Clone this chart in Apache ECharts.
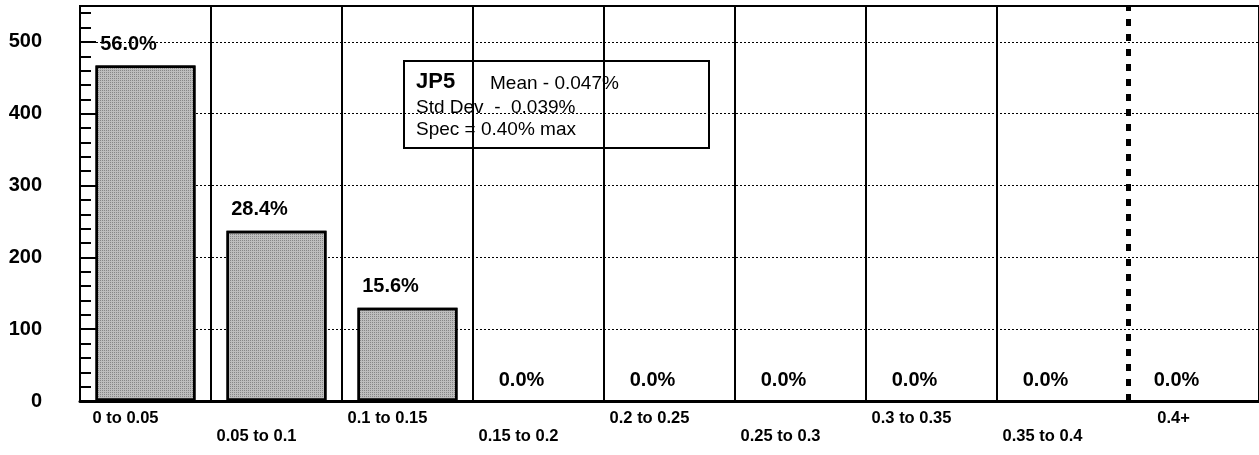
<!DOCTYPE html>
<html>
<head>
<meta charset="utf-8">
<script src="https://cdn.jsdelivr.net/npm/echarts@6/dist/echarts.min.js"></script>
<style>
  html, body { margin: 0; padding: 0; background: #fff; }
  #chart { width: 1259px; height: 455px; }
</style>
</head>
<body>
<div id="chart"></div>
<script>
// bins of the histogram (%)
var categories = ['0 to 0.05', '0.05 to 0.1', '0.1 to 0.15', '0.15 to 0.2', '0.2 to 0.25',
  '0.25 to 0.3', '0.3 to 0.35', '0.35 to 0.4', '0.4+']
// sample counts per bin
var counts = [467, 237, 130, 0, 0, 0, 0, 0, 0]
var yTicks = [0, 100, 200, 300, 400, 500]
// spec limit sits on the boundary before the last bin
var specBoundary = 8
var boxTitle = 'JP5'
var boxLines = ['Mean - 0.047%', 'Std Dev  -  0.039%', 'Spec = 0.40% max']

var total = counts.reduce(function (a, b) { return a + b }, 0)
var font = '"Liberation Sans", Arial, Helvetica, sans-serif'

var myChart = echarts.init(document.getElementById('chart'))

// empty bins get no outline, like the original
var barData = counts.map(function (c) {
  return c > 0 ? c : { value: c, itemStyle: { borderWidth: 0 } }
})

var option = {
  animation: false,
  backgroundColor: '#fff',
  textStyle: { fontFamily: font },
  grid: {
    left: 80, top: 6, right: -4, bottom: 54,
    show: true, borderColor: '#000', borderWidth: 2
  },
  xAxis: [{
    type: 'category',
    data: categories,
    boundaryGap: true,
    axisLine: { lineStyle: { color: '#000', width: 3 } },
    axisTick: { show: false },
    axisLabel: {
      interval: 0,
      margin: 8,
      color: '#000',
      fontWeight: 'bold',
      fontSize: 16.5,
      lineHeight: 18,
      padding: [0, 40, 0, 0],
      formatter: function (v, i) { return i % 2 ? '\n' + v : v }
    },
    splitLine: {
      show: true,
      interval: function (i) { return i !== specBoundary },
      lineStyle: { color: '#000', width: 2 }
    }
  }, {
    type: 'value',
    min: 0,
    max: categories.length,
    show: false
  }],
  yAxis: [{
    type: 'value',
    position: 'left',
    min: 0,
    max: 550,
    interval: 100,
    axisLine: { show: true, lineStyle: { color: '#000', width: 2 } },
    axisTick: { show: true, inside: true, length: 16, lineStyle: { color: '#000', width: 2 } },
    axisLabel: {
      showMaxLabel: false,
      margin: 38,
      color: '#000',
      fontWeight: 'bold',
      fontSize: 20,
      formatter: function (v) { return yTicks.indexOf(v) >= 0 ? String(v) : '' }
    },
    splitLine: { show: true, lineStyle: { color: '#000', width: 1, type: [2, 2] } }
  }, {
    type: 'value',
    position: 'left',
    min: 0,
    max: 550,
    interval: 20,
    axisLine: { show: false },
    axisTick: { show: true, inside: true, length: 11, lineStyle: { color: '#000', width: 2 } },
    axisLabel: { show: false },
    splitLine: { show: false }
  }],
  series: [{
    type: 'bar',
    data: barData,
    barWidth: 100,
    itemStyle: {
      color: '#bdbdbd',
      borderColor: '#000',
      borderWidth: 2.5,
      decal: {
        symbol: 'rect',
        symbolSize: 1,
        dashArrayX: [1, 1],
        dashArrayY: [1, 1],
        color: 'rgba(80,80,80,0.5)'
      }
    },
    label: {
      show: true,
      position: 'top',
      distance: 11,
      offset: [-17, 0],
      color: '#000',
      fontWeight: 'bold',
      fontSize: 20,
      formatter: function (p) { return (p.value / total * 100).toFixed(1) + '%' }
    }
  }, {
    type: 'line',
    xAxisIndex: 1,
    yAxisIndex: 0,
    data: [],
    markLine: {
      silent: true,
      symbol: 'none',
      label: { show: false },
      lineStyle: { color: '#000', width: 5, type: [7, 8] },
      data: [{ xAxis: specBoundary }]
    }
  }],
  graphic: [{
    type: 'group',
    left: 403,
    top: 60,
    children: [{
      type: 'rect',
      shape: { x: 0, y: 0, width: 305, height: 87 },
      style: { fill: '#fff', stroke: '#000', lineWidth: 2 }
    }, {
      type: 'text',
      x: 12, y: 21,
      style: { text: boxTitle, fontFamily: font, fontWeight: 'bold', fontSize: 22, fill: '#000', verticalAlign: 'middle' }
    }, {
      type: 'text',
      x: 86, y: 23,
      style: { text: boxLines[0], fontFamily: font, fontSize: 19, fill: '#000', verticalAlign: 'middle' }
    }, {
      type: 'text',
      x: 12, y: 47,
      style: { text: boxLines[1], fontFamily: font, fontSize: 19, fill: '#000', verticalAlign: 'middle' }
    }, {
      type: 'text',
      x: 12, y: 69,
      style: { text: boxLines[2], fontFamily: font, fontSize: 19, fill: '#000', verticalAlign: 'middle' }
    }]
  }]
}

myChart.setOption(option)
</script>
</body>
</html>
